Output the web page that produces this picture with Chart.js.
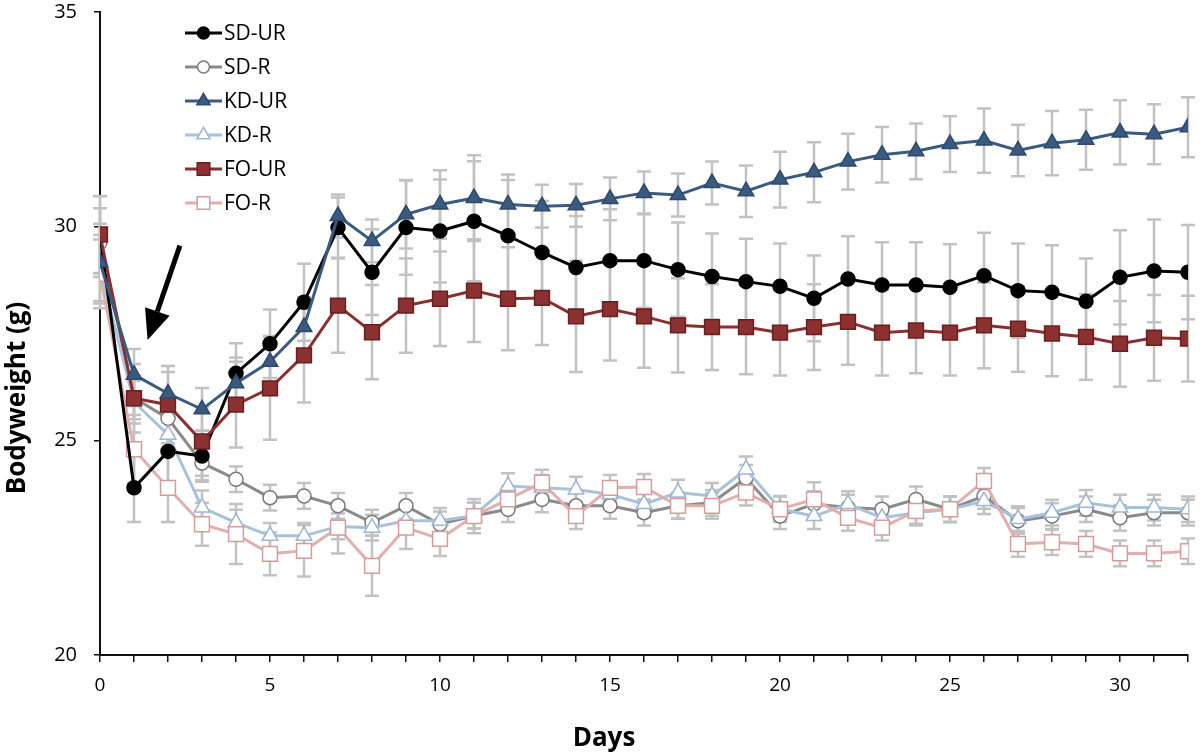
<!DOCTYPE html>
<html>
<head>
<meta charset="utf-8">
<script src="https://cdn.jsdelivr.net/npm/chart.js@4"></script>
<style>
  html, body { margin: 0; padding: 0; background: #fff; }
  #wrap { width: 1200px; height: 755px; }
</style>
</head>
<body>
<div id="wrap"><canvas id="chart" width="1200" height="755"></canvas></div>
<script>
const days = [0,1,2,3,4,5,6,7,8,9,10,11,12,13,14,15,16,17,18,19,20,21,22,23,24,25,26,27,28,29,30,31,32];

const sdUR = [29.8,23.9,24.75,24.64,26.57,27.26,28.23,29.97,28.93,29.97,29.89,30.12,29.78,29.39,29.04,29.2,29.2,28.99,28.83,28.71,28.6,28.32,28.77,28.63,28.63,28.58,28.85,28.5,28.46,28.25,28.81,28.96,28.93];
const sdR  = [29.62,26.0,25.52,24.48,24.1,23.67,23.71,23.48,23.09,23.48,23.05,23.25,23.4,23.63,23.48,23.48,23.32,23.48,23.55,24.13,23.24,23.52,23.44,23.4,23.63,23.4,23.71,23.13,23.24,23.4,23.2,23.32,23.32];
const kdUR = [29.16,26.54,26.1,25.73,26.34,26.84,27.65,30.24,29.66,30.28,30.51,30.66,30.51,30.47,30.49,30.64,30.78,30.73,31.01,30.82,31.09,31.26,31.51,31.67,31.75,31.92,32.0,31.77,31.94,32.02,32.19,32.15,32.31];
const kdR  = [29.0,25.9,25.14,23.44,23.09,22.78,22.78,23.0,22.97,23.13,23.13,23.25,23.94,23.9,23.86,23.75,23.52,23.79,23.71,24.33,23.41,23.24,23.52,23.2,23.32,23.4,23.59,23.17,23.32,23.55,23.44,23.44,23.4];
const foUR = [29.81,25.99,25.84,24.98,25.84,26.22,26.99,28.15,27.53,28.15,28.31,28.5,28.31,28.33,27.9,28.07,27.9,27.69,27.65,27.65,27.52,27.65,27.77,27.52,27.57,27.52,27.69,27.61,27.5,27.42,27.26,27.4,27.38];
const foR  = [28.89,24.8,23.9,23.05,22.82,22.36,22.43,22.97,22.08,22.97,22.71,23.24,23.63,24.02,23.24,23.9,23.92,23.48,23.48,23.79,23.4,23.63,23.2,22.97,23.36,23.4,24.06,22.59,22.63,22.59,22.37,22.37,22.42];

// standard errors (half bar length)
const sdURErr = [0.9,0.8,0.8,0.6,0.7,0.8,0.9,0.7,1.0,1.1,1.2,1.4,1.3,1.2,1.2,1.2,1.1,1.1,1.0,1.0,1.0,1.0,1.0,1.0,1.0,1.0,1.0,1.1,1.1,1.0,1.1,1.2,1.1];
const sdRErr  = [0.8,0.5,0.4,0.4,0.3,0.3,0.3,0.3,0.3,0.3,0.3,0.3,0.3,0.3,0.3,0.3,0.3,0.3,0.3,0.3,0.3,0.3,0.3,0.3,0.3,0.3,0.3,0.3,0.3,0.3,0.3,0.3,0.3];
const kdURErr = [0.9,0.6,0.5,0.5,0.6,0.6,0.7,0.5,0.5,0.8,0.8,1.0,0.7,0.5,0.5,0.5,0.5,0.5,0.5,0.6,0.65,0.7,0.65,0.65,0.65,0.65,0.75,0.6,0.75,0.7,0.75,0.7,0.7];
const kdRErr  = [0.8,0.5,0.4,0.4,0.3,0.3,0.3,0.3,0.3,0.3,0.3,0.3,0.3,0.3,0.3,0.3,0.3,0.3,0.3,0.3,0.3,0.3,0.3,0.3,0.3,0.3,0.3,0.3,0.3,0.3,0.3,0.3,0.3];
const foURErr = [0.9,0.8,0.9,0.8,1.0,1.2,1.1,1.1,1.1,1.1,1.1,1.2,1.2,1.1,1.3,1.2,1.2,1.1,1.0,1.1,1.0,1.0,1.0,1.0,1.0,1.0,1.0,1.0,1.0,1.0,1.0,1.0,1.0];
const foRErr  = [0.8,0.8,0.8,0.5,0.7,0.5,0.6,0.6,0.7,0.5,0.4,0.4,0.3,0.3,0.3,0.3,0.3,0.3,0.3,0.3,0.3,0.4,0.3,0.3,0.3,0.3,0.3,0.3,0.3,0.3,0.3,0.3,0.3];

// arrow annotation, in data units
const arrowFrom = { x: 2.35, y: 29.55 };
const arrowTo = { x: 1.4, y: 27.35 };

const xTitle = 'Days';
const yTitle = 'Bodyweight (g)';

const FONT = "'Open Sans', Lato, Arial, sans-serif";

function pts(vals) {
  return days.map((d, i) => ({ x: d, y: vals[i] }));
}

function series(label, vals, errs, line, fill, border, style, radius, order) {
  return {
    label: label,
    data: pts(vals),
    errors: errs,
    borderColor: line,
    borderWidth: 3,
    pointStyle: style,
    pointRadius: radius,
    pointBackgroundColor: fill,
    pointBorderColor: border,
    pointBorderWidth: 1.5,
    tension: 0,
    order: order
  };
}

const datasets = [
  series('SD-UR', sdUR, sdURErr, '#000000', '#000000', '#000000', 'circle', 7, 2),
  series('SD-R', sdR, sdRErr, '#8a8a8a', '#ffffff', '#7a7a7a', 'circle', 7, 5),
  series('KD-UR', kdUR, kdURErr, '#3a5a80', '#3a5a80', '#2e4a6c', 'triangle', 9, 0),
  series('KD-R', kdR, kdRErr, '#a9c2dc', '#ffffff', '#9db6d2', 'triangle', 9, 4),
  series('FO-UR', foUR, foURErr, '#8a2f2f', '#8b3131', '#6a1f1f', 'rect', 10.5, 1),
  series('FO-R', foR, foRErr, '#e2afaf', '#ffffff', '#d69c9c', 'rect', 10.5, 3)
];

const errorBars = {
  id: 'errorBars',
  beforeDatasetsDraw(chart) {
    const ctx = chart.ctx;
    const xs = chart.scales.x, ys = chart.scales.y;
    ctx.save();
    ctx.strokeStyle = '#c2c2c2';
    ctx.lineWidth = 2.5;
    chart.data.datasets.forEach(ds => {
      ds.data.forEach((p, i) => {
        const e = ds.errors[i];
        const x = xs.getPixelForValue(p.x);
        const t = ys.getPixelForValue(p.y + e);
        const b = ys.getPixelForValue(p.y - e);
        ctx.beginPath();
        ctx.moveTo(x, t); ctx.lineTo(x, b);
        ctx.moveTo(x - 7, t); ctx.lineTo(x + 7, t);
        ctx.moveTo(x - 7, b); ctx.lineTo(x + 7, b);
        ctx.stroke();
      });
    });
    ctx.restore();
  }
};

const arrow = {
  id: 'arrow',
  afterDatasetsDraw(chart) {
    const ctx = chart.ctx;
    const xs = chart.scales.x, ys = chart.scales.y;
    const x1 = xs.getPixelForValue(arrowFrom.x), y1 = ys.getPixelForValue(arrowFrom.y);
    const x2 = xs.getPixelForValue(arrowTo.x), y2 = ys.getPixelForValue(arrowTo.y);
    const a = Math.atan2(y2 - y1, x2 - x1);
    const len = 30, wid = 13;
    const bx = x2 - len * Math.cos(a), by = y2 - len * Math.sin(a);
    ctx.save();
    ctx.strokeStyle = '#000';
    ctx.fillStyle = '#000';
    ctx.lineWidth = 5;
    ctx.beginPath();
    ctx.moveTo(x1, y1); ctx.lineTo(bx, by);
    ctx.stroke();
    ctx.beginPath();
    ctx.moveTo(x2, y2);
    ctx.lineTo(bx + wid * Math.sin(a), by - wid * Math.cos(a));
    ctx.lineTo(bx - wid * Math.sin(a), by + wid * Math.cos(a));
    ctx.closePath();
    ctx.fill();
    ctx.restore();
  }
};

// legend inside the plot, top left
const legendBox = {
  id: 'legendBox',
  afterDraw(chart) {
    const ctx = chart.ctx;
    ctx.save();
    ctx.font = '21px ' + FONT;
    ctx.textBaseline = 'middle';
    chart.data.datasets.forEach((ds, i) => {
      const y = 33 + i * 34;
      ctx.strokeStyle = ds.borderColor;
      ctx.lineWidth = 3;
      ctx.beginPath();
      ctx.moveTo(185, y); ctx.lineTo(222, y);
      ctx.stroke();
      ctx.fillStyle = ds.pointBackgroundColor;
      ctx.strokeStyle = ds.pointBorderColor;
      ctx.lineWidth = 1.5;
      Chart.helpers.drawPoint(ctx, { pointStyle: ds.pointStyle, radius: ds.pointRadius * 0.85, borderWidth: 1.5, rotation: 0 }, 203.5, y);
      ctx.fillStyle = '#000';
      ctx.fillText(ds.label, 224, y + 1);
    });
    ctx.restore();
  }
};

// axis titles (offset from the axis centre like the original)
const axisTitles = {
  id: 'axisTitles',
  afterDraw(chart) {
    const ctx = chart.ctx;
    ctx.save();
    ctx.fillStyle = '#000';
    ctx.font = 'bold 26px ' + FONT;
    ctx.textAlign = 'center';
    ctx.textBaseline = 'alphabetic';
    ctx.fillText(xTitle, 604, 746);
    ctx.translate(25, 398);
    ctx.rotate(-Math.PI / 2);
    ctx.fillText(yTitle, 0, 0);
    ctx.restore();
  }
};

new Chart(document.getElementById('chart'), {
  type: 'line',
  data: { datasets: datasets },
  plugins: [errorBars, arrow, legendBox, axisTitles],
  options: {
    responsive: false,
    devicePixelRatio: 1,
    animation: false,
    layout: { padding: { top: 5, right: 12, left: 0, bottom: 0 } },
    plugins: {
      legend: { display: false },
      tooltip: { enabled: false }
    },
    scales: {
      x: {
        type: 'linear',
        min: 0,
        max: 32,
        afterFit: s => { s.height = 100; s.paddingLeft = 0; s.paddingRight = 0; },
        border: { color: '#111', width: 2 },
        grid: { drawOnChartArea: false, drawTicks: true, tickLength: 7, color: '#111', lineWidth: 1.5 },
        ticks: {
          stepSize: 1,
          autoSkip: false,
          maxRotation: 0,
          padding: 12,
          color: '#000',
          font: { family: FONT, size: 19 },
          callback: v => (v % 5 === 0 ? String(v) : '')
        }
      },
      y: {
        min: 20,
        max: 35,
        afterFit: s => { s.width = 100; s.paddingTop = 0; s.paddingBottom = 0; },
        border: { color: '#111', width: 2 },
        grid: { drawOnChartArea: false, drawTicks: true, tickLength: 6, color: '#111', lineWidth: 1.5 },
        ticks: {
          stepSize: 5,
          padding: 17,
          color: '#000',
          font: { family: FONT, size: 20 }
        }
      }
    }
  }
});
</script>
</body>
</html>
